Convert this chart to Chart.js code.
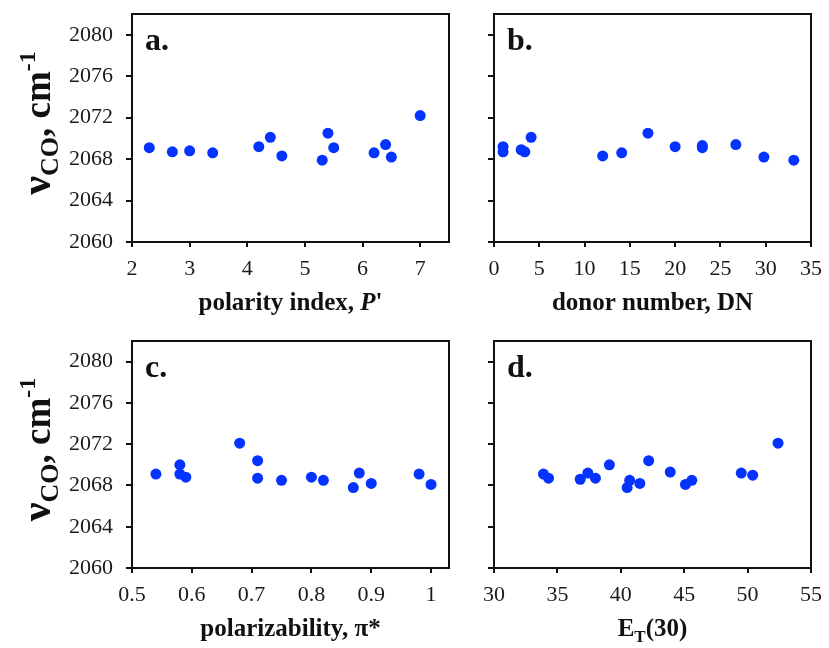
<!DOCTYPE html>
<html>
<head>
<meta charset="utf-8">
<script src="https://cdn.jsdelivr.net/npm/chart.js@4/dist/chart.umd.min.js"></script>
<style>
  html, body { margin: 0; padding: 0; background: #fff; }
  #wrap { position: relative; width: 829px; height: 648px; background: #fff; }
  canvas { position: absolute; }
</style>
</head>
<body>
<div id="wrap">
  <canvas id="pa" width="460" height="324" style="left:0;top:0"></canvas>
  <canvas id="pb" width="369" height="324" style="left:460px;top:0"></canvas>
  <canvas id="pc" width="460" height="324" style="left:0;top:324px"></canvas>
  <canvas id="pd" width="369" height="324" style="left:460px;top:324px"></canvas>
</div>
<script>
// CO stretching frequency (cm-1) against four solvent parameters
const polarityIndex = [2.3, 2.7, 3.0, 3.4, 4.2, 4.4, 4.6, 5.3, 5.4, 5.5, 6.2, 6.4, 6.5, 7.0];
const nuCO_P        = [2069.1, 2068.7, 2068.8, 2068.6, 2069.2, 2070.1, 2068.3, 2067.9, 2070.5, 2069.1, 2068.6, 2069.4, 2068.2, 2072.2];

const donorNumber   = [1.0, 1.0, 3.0, 3.4, 4.1, 12.0, 14.1, 17.0, 20.0, 23.0, 23.0, 26.7, 29.8, 33.1];
const nuCO_DN       = [2069.2, 2068.7, 2068.9, 2068.7, 2070.1, 2068.3, 2068.6, 2070.5, 2069.2, 2069.3, 2069.1, 2069.4, 2068.2, 2067.9];

const polarizability = [0.54, 0.58, 0.58, 0.59, 0.68, 0.71, 0.71, 0.75, 0.80, 0.82, 0.87, 0.88, 0.90, 0.98, 1.00];
const nuCO_pi        = [2069.1, 2070.0, 2069.1, 2068.8, 2072.1, 2070.4, 2068.7, 2068.5, 2068.8, 2068.5, 2067.8, 2069.2, 2068.2, 2069.1, 2068.1];

const et30     = [33.9, 34.3, 36.8, 37.4, 38.0, 39.1, 40.5, 40.7, 41.5, 42.2, 43.9, 45.1, 45.6, 49.5, 50.4, 52.4];
const nuCO_ET  = [2069.1, 2068.7, 2068.6, 2069.2, 2068.7, 2070.0, 2067.8, 2068.5, 2068.2, 2070.4, 2069.3, 2068.1, 2068.5, 2069.2, 2069.0, 2072.1];

// tick values
const yTicks      = [2060, 2064, 2068, 2072, 2076, 2080];
const xTicksP     = [2, 3, 4, 5, 6, 7];
const xTicksDN    = [0, 5, 10, 15, 20, 25, 30, 35];
const xTicksPi    = [0.5, 0.6, 0.7, 0.8, 0.9, 1];
const xTicksET    = [30, 35, 40, 45, 50, 55];

const SERIF = '"Liberation Serif", "Times New Roman", serif';
const DOT = '#0433ff';

function toPairs(xs, ys) { return xs.map((x, i) => ({ x: x, y: ys[i] })); }

// draws a run of text pieces (each with its own font and baseline shift)
function drawRuns(ctx, runs, x, y, align) {
  let total = 0;
  runs.forEach(r => { ctx.font = r.font; r.w = ctx.measureText(r.t).width; total += r.w; });
  let cx = align === 'center' ? x - total / 2 : x;
  runs.forEach(r => {
    ctx.font = r.font;
    ctx.fillText(r.t, cx, y + (r.dy || 0));
    cx += r.w;
  });
}

const decor = {
  id: 'decor',
  afterDraw(chart, args, o) {
    const { ctx, chartArea: a } = chart;
    ctx.save();
    // frame
    ctx.strokeStyle = '#111';
    ctx.lineWidth = 2;
    ctx.strokeRect(a.left, a.top, a.right - a.left, a.bottom - a.top);
    ctx.fillStyle = '#111';
    ctx.textAlign = 'left';
    ctx.textBaseline = 'alphabetic';
    // panel letter
    ctx.font = 'bold 32px ' + SERIF;
    ctx.fillText(o.letter, a.left + 13, a.top + 36);
    // x title
    drawRuns(ctx, o.xTitle, (a.left + a.right) / 2, a.bottom + 68, 'center');
    // y title (left panels only)
    if (o.yTitle) {
      ctx.translate(50, (a.top + a.bottom) / 2 - 5);
      ctx.rotate(-Math.PI / 2);
      drawRuns(ctx, o.yTitle, 0, 0, 'center');
    }
    ctx.restore();
  }
};

const B = (s) => 'bold ' + s + 'px ' + SERIF;
const BI = (s) => 'italic bold ' + s + 'px ' + SERIF;

function makePanel(id, xs, ys, xMin, xMax, xTickVals, letter, xTitle, yTitle, geo) {
  const ctx = document.getElementById(id).getContext('2d');
  const tickFont = { family: SERIF, size: 22 };
  return new Chart(ctx, {
    type: 'scatter',
    data: { datasets: [{ data: toPairs(xs, ys), backgroundColor: DOT, borderWidth: 0, pointRadius: 5.5, pointHoverRadius: 5.5 }] },
    options: {
      responsive: false,
      animation: false,
      devicePixelRatio: 1,
      layout: { padding: { left: 0, top: geo.top, right: geo.right, bottom: 0 } },
      plugins: {
        legend: { display: false },
        tooltip: { enabled: false },
        decor: { letter: letter, xTitle: xTitle, yTitle: yTitle }
      },
      scales: {
        x: {
          type: 'linear', min: xMin, max: xMax,
          afterBuildTicks: s => { s.ticks = xTickVals.map(v => ({ value: v })); },
          afterFit: s => { s.height = geo.xh; s.paddingLeft = 0; s.paddingRight = 0; },
          border: { display: false },
          grid: { display: true, drawOnChartArea: false, drawTicks: true, tickLength: 5, color: '#111', lineWidth: 2 },
          ticks: { font: tickFont, color: '#1a1a1a', padding: 9, maxRotation: 0, autoSkip: false,
                   callback: v => String(+(+v).toFixed(2)) }
        },
        y: {
          type: 'linear', min: 2060, max: 2082,
          afterBuildTicks: s => { s.ticks = yTicks.map(v => ({ value: v })); },
          afterFit: s => { s.width = geo.yw; s.paddingTop = 0; s.paddingBottom = 0; },
          border: { display: false },
          grid: { display: true, drawOnChartArea: false, drawTicks: true, tickLength: 6, color: '#111', lineWidth: 2 },
          ticks: { font: tickFont, color: '#1a1a1a', padding: 13, display: geo.yLabels, autoSkip: false,
                   callback: v => String(v) }
        }
      }
    },
    plugins: [decor]
  });
}

const yTitle = [
  { t: 'ν', font: B(42) },
  { t: 'CO', font: B(26), dy: 8 },
  { t: ', cm', font: B(37) },
  { t: '-1', font: B(24), dy: -15 }
];

const geoTopLeft  = { top: 14, right: 11, xh: 82, yw: 132, yLabels: true };
const geoTopRight = { top: 14, right: 18, xh: 82, yw: 34,  yLabels: false };
const geoBotLeft  = { top: 17, right: 11, xh: 80, yw: 132, yLabels: true };
const geoBotRight = { top: 17, right: 18, xh: 80, yw: 34,  yLabels: false };

makePanel('pa', polarityIndex, nuCO_P, 2, 7.5, xTicksP, 'a.',
  [{ t: 'polarity index, ', font: B(25) }, { t: "P", font: BI(25) }, { t: "'", font: B(25) }],
  yTitle, geoTopLeft);

makePanel('pb', donorNumber, nuCO_DN, 0, 35, xTicksDN, 'b.',
  [{ t: 'donor number, DN', font: B(25) }], null, geoTopRight);

makePanel('pc', polarizability, nuCO_pi, 0.5, 1.03, xTicksPi, 'c.',
  [{ t: 'polarizability, π*', font: B(25) }], yTitle, geoBotLeft);

makePanel('pd', et30, nuCO_ET, 30, 55, xTicksET, 'd.',
  [{ t: 'E', font: B(25) }, { t: 'T', font: B(17), dy: 6 }, { t: '(30)', font: B(25) }], null, geoBotRight);
</script>
</body>
</html>
